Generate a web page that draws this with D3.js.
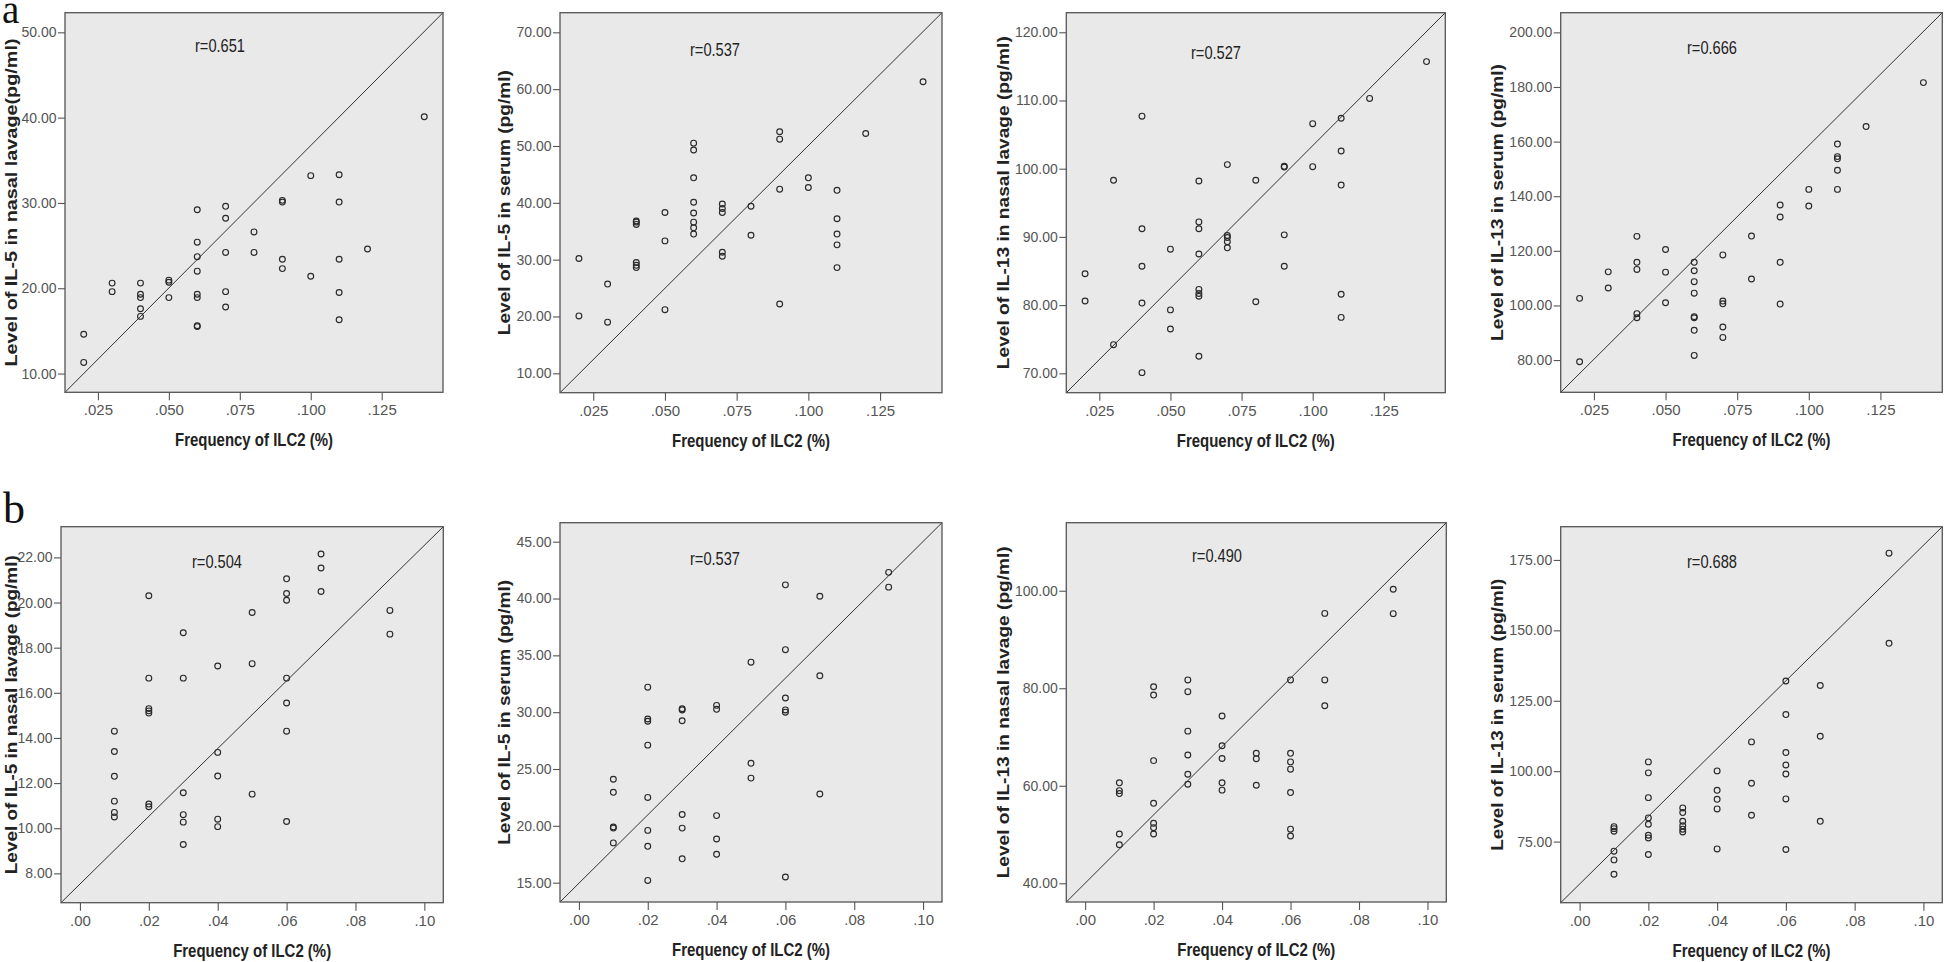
<!DOCTYPE html>
<html><head><meta charset="utf-8">
<script src="https://cdn.jsdelivr.net/npm/d3@7"></script>
<style>body{margin:0;background:#fff;} svg{display:block}</style>
</head><body>
<svg id="c" width="1944" height="962"></svg>
<script>
// ---------- data ----------
const xTicksA = [0.025, 0.05, 0.075, 0.1, 0.125];
const xTicksB = [0, 0.02, 0.04, 0.06, 0.08, 0.1];
const xDomainA = [0.0134, 0.1466];
const xDomainB = [-0.0055, 0.1055];
const xTitle = "Frequency of ILC2 (%)";

// Panel a1: IL-5 nasal lavage
const a1X = [.02,.02,.03,.03,.04,.04,.04,.04,.04,.05,.05,.05,.06,.06,.06,.06,.06,.06,.06,.06,.07,.07,.07,.07,.07,.08,.08,.09,.09,.09,.09,.10,.10,.11,.11,.11,.11,.11,.12,.14];
const a1Y = [14.6,11.3,20.6,19.6,20.6,19.3,18.9,17.6,16.7,20.95,20.7,18.9,29.2,25.4,23.7,22.0,19.3,18.9,15.6,15.5,29.6,28.2,24.2,19.6,17.8,26.6,24.2,30.3,30.1,23.4,22.3,33.2,21.4,33.3,30.1,23.4,19.5,16.3,24.6,40.1];
const a1YTicks = [10, 20, 30, 40, 50];
const a1YDomain = [7.8, 52.3];

// Panel a2: IL-5 serum
const a2X = [.02,.02,.03,.03,.04,.04,.04,.04,.04,.04,.05,.05,.05,.06,.06,.06,.06,.06,.06,.06,.06,.07,.07,.07,.07,.07,.08,.08,.09,.09,.09,.09,.10,.10,.11,.11,.11,.11,.11,.12,.14];
const a2Y = [30.2,20.1,25.7,19.0,36.8,36.6,36.2,29.5,29.0,28.6,38.3,33.3,21.2,50.5,49.3,44.4,40.1,38.2,36.6,35.6,34.5,39.8,39.0,38.3,31.3,30.6,39.4,34.3,52.5,51.2,42.4,22.2,44.4,42.7,42.2,37.2,34.5,32.6,28.6,52.2,61.3];
const a2YTicks = [10, 20, 30, 40, 50, 60, 70];
const a2YDomain = [6.59, 73.45];

// Panel a3: IL-13 nasal lavage
const a3X = [.02,.02,.03,.03,.04,.04,.04,.04,.04,.05,.05,.05,.06,.06,.06,.06,.06,.06,.06,.06,.07,.07,.07,.07,.07,.08,.08,.09,.09,.09,.09,.10,.10,.11,.11,.11,.11,.11,.12,.14];
const a3Y = [84.6,80.6,98.3,74.2,107.7,91.2,85.7,80.3,70.1,88.2,79.3,76.5,98.2,92.2,91.2,87.5,82.3,81.7,81.3,72.5,100.6,90.2,89.9,89.3,88.4,98.3,80.5,100.35,100.25,90.3,85.7,106.6,100.3,107.4,102.6,97.6,81.6,78.2,110.3,115.7];
const a3YTicks = [70, 80, 90, 100, 110, 120];
const a3YDomain = [67.16, 122.87];

// Panel a4: IL-13 serum
const a4X = [.02,.02,.03,.03,.04,.04,.04,.04,.04,.05,.05,.05,.06,.06,.06,.06,.06,.06,.06,.06,.07,.07,.07,.07,.07,.08,.08,.09,.09,.09,.09,.10,.10,.11,.11,.11,.11,.11,.12,.14];
const a4Y = [102.6,79.4,112.3,106.4,125.3,115.8,113.2,97.0,95.5,120.5,112.2,101.0,115.8,112.7,108.7,104.5,95.9,95.5,90.9,81.7,118.5,101.6,100.6,92.1,88.3,125.4,109.7,136.8,132.4,115.8,100.5,142.5,136.4,159.1,154.5,153.7,149.5,142.5,165.5,181.6];
const a4YTicks = [80, 100, 120, 140, 160, 180, 200];
const a4YDomain = [68.2, 207.2];

// Panel b1: IL-5 nasal lavage
const b1X = [.01,.01,.01,.01,.01,.01,.02,.02,.02,.02,.02,.02,.02,.03,.03,.03,.03,.03,.03,.04,.04,.04,.04,.04,.05,.05,.05,.06,.06,.06,.06,.06,.06,.06,.07,.07,.07,.09,.09];
const b1Y = [14.3,13.4,12.3,11.2,10.7,10.5,20.3,16.65,15.3,15.2,15.1,11.07,10.95,18.66,16.65,11.57,10.6,10.27,9.28,17.19,13.36,12.31,10.4,10.07,19.56,17.29,11.51,21.05,20.4,20.1,16.65,15.55,14.3,10.3,22.15,21.53,20.49,19.65,18.6];
const b1YTicks = [8, 10, 12, 14, 16, 18, 20, 22];
const b1YDomain = [6.70, 23.36];

// Panel b2: IL-5 serum
const b2X = [.01,.01,.01,.01,.01,.02,.02,.02,.02,.02,.02,.02,.02,.03,.03,.03,.03,.03,.03,.04,.04,.04,.04,.04,.05,.05,.05,.06,.06,.06,.06,.06,.06,.07,.07,.07,.09,.09];
const b2Y = [24.1,22.95,19.9,19.8,18.5,32.2,29.4,29.2,27.1,22.5,19.6,18.2,15.2,30.3,30.2,29.25,21.0,19.8,17.1,30.6,30.25,20.9,18.84,17.5,34.4,25.5,24.2,41.2,35.5,31.25,30.2,30.0,15.5,40.2,33.2,22.8,42.3,41.0];
const b2YTicks = [15, 20, 25, 30, 35, 40, 45];
const b2YDomain = [13.30, 46.67];

// Panel b3: IL-13 nasal lavage
const b3X = [.01,.01,.01,.01,.01,.02,.02,.02,.02,.02,.02,.02,.03,.03,.03,.03,.03,.03,.04,.04,.04,.04,.04,.05,.05,.05,.06,.06,.06,.06,.06,.06,.06,.07,.07,.07,.09,.09];
const b3Y = [60.6,59.0,58.4,50.1,47.9,80.3,78.6,65.15,56.4,52.3,51.4,50.1,81.7,79.3,71.2,66.3,62.35,60.3,74.3,68.2,65.6,60.6,59.1,66.65,65.55,60.1,81.7,66.65,64.9,63.4,58.6,51.1,49.7,95.35,81.7,76.4,100.3,95.3];
const b3YTicks = [40, 60, 80, 100];
const b3YDomain = [36.16, 113.95];

// Panel b4: IL-13 serum
const b4X = [.01,.01,.01,.01,.01,.01,.02,.02,.02,.02,.02,.02,.02,.02,.03,.03,.03,.03,.03,.03,.04,.04,.04,.04,.04,.05,.05,.05,.06,.06,.06,.06,.06,.06,.06,.07,.07,.07,.09,.09];
const b4Y = [80.3,79.6,78.7,71.6,68.5,63.4,103.3,99.4,90.6,83.4,81.15,77.25,76.3,70.4,86.95,85.3,82.2,80.6,79.4,78.4,100.1,93.2,90.0,86.6,72.4,110.4,95.7,84.35,132.0,120.1,106.6,102.2,99.0,90.15,72.2,130.4,112.4,82.2,177.4,145.4];
const b4YTicks = [75, 100, 125, 150, 175];
const b4YDomain = [53.3, 186.8];

const rLabels = ["r=0.651", "r=0.537", "r=0.527", "r=0.666", "r=0.504", "r=0.537", "r=0.490", "r=0.688"];
const yTitles = [
  "Level of IL-5 in nasal lavage(pg/ml)",
  "Level of IL-5 in serum (pg/ml)",
  "Level of IL-13 in nasal lavage (pg/ml)",
  "Level of IL-13 in serum (pg/ml)",
  "Level of IL-5 in nasal lavage (pg/ml)",
  "Level of IL-5 in serum (pg/ml)",
  "Level of IL-13 in nasal lavage (pg/ml)",
  "Level of IL-13 in serum (pg/ml)"
];
const panelLetters = ["a", "b"];

// ---------- layout (pixels, not data) ----------
const frames = [
  [65, 12.7, 443, 392.3], [560, 12.7, 942, 392.7], [1066.3, 12.7, 1445.3, 392.7], [1560.7, 12.7, 1942.3, 392.3],
  [61, 526.7, 443.3, 902.7], [560, 522.7, 942, 902], [1066.3, 522.7, 1446.3, 902], [1560.7, 526.7, 1942.3, 902.7]
];
const rPos = [[195, 52.3], [690, 55.7], [1191, 59.3], [1687, 54.3], [192, 568.3], [690, 565], [1192, 561.7], [1687, 568.3]];
const yTitleLen = [328, 265, 333, 277, 319, 265, 332, 272];

const fmtA = d => d3.format(".3f")(d).replace(/^0/, "");
const fmtB = d => d3.format(".2f")(d).replace(/^0/, "");
const panels = [
  {xs: a1X, ys: a1Y, yT: a1YTicks, yD: a1YDomain, xT: xTicksA, xD: xDomainA, fmtX: fmtA},
  {xs: a2X, ys: a2Y, yT: a2YTicks, yD: a2YDomain, xT: xTicksA, xD: xDomainA, fmtX: fmtA},
  {xs: a3X, ys: a3Y, yT: a3YTicks, yD: a3YDomain, xT: xTicksA, xD: xDomainA, fmtX: fmtA},
  {xs: a4X, ys: a4Y, yT: a4YTicks, yD: a4YDomain, xT: xTicksA, xD: xDomainA, fmtX: fmtA},
  {xs: b1X, ys: b1Y, yT: b1YTicks, yD: b1YDomain, xT: xTicksB, xD: xDomainB, fmtX: fmtB},
  {xs: b2X, ys: b2Y, yT: b2YTicks, yD: b2YDomain, xT: xTicksB, xD: xDomainB, fmtX: fmtB},
  {xs: b3X, ys: b3Y, yT: b3YTicks, yD: b3YDomain, xT: xTicksB, xD: xDomainB, fmtX: fmtB},
  {xs: b4X, ys: b4Y, yT: b4YTicks, yD: b4YDomain, xT: xTicksB, xD: xDomainB, fmtX: fmtB}
];

const NARROW = "'Liberation Sans Narrow', 'Arial Narrow', 'Liberation Sans', Arial, sans-serif";
const SANS = "'Liberation Sans', Arial, sans-serif";

const svg = d3.select("#c");

panels.forEach((p, i) => {
  const [l, t, r, b] = frames[i];
  const x = d3.scaleLinear().domain(p.xD).range([l, r]);
  const y = d3.scaleLinear().domain(p.yD).range([b, t]);
  const g = svg.append("g");

  g.append("rect").attr("x", l).attr("y", t).attr("width", r - l).attr("height", b - t)
    .attr("fill", "#e9e9e9");

  const yAxis = d3.axisLeft(y).tickValues(p.yT).tickFormat(d3.format(".2f")).tickSize(7).tickPadding(1.5);
  const yg = g.append("g").attr("transform", `translate(${l},0)`).call(yAxis);
  yg.select(".domain").remove();
  yg.selectAll(".tick line").attr("stroke", "#555").attr("stroke-width", 1.1);
  yg.selectAll(".tick text").attr("fill", "#555").style("font-family", NARROW).style("font-size", "14px");

  const xAxis = d3.axisBottom(x).tickValues(p.xT).tickFormat(p.fmtX).tickSize(8).tickPadding(4.5);
  const xg = g.append("g").attr("transform", `translate(0,${b})`).call(xAxis);
  xg.select(".domain").remove();
  xg.selectAll(".tick line").attr("stroke", "#555").attr("stroke-width", 1.1);
  xg.selectAll(".tick text").attr("fill", "#555").style("font-family", NARROW).style("font-size", "15px");

  // reference diagonal
  g.append("line")
    .attr("x1", x(p.xD[0])).attr("y1", y(p.yD[0]))
    .attr("x2", x(p.xD[1])).attr("y2", y(p.yD[1]))
    .attr("stroke", "#333").attr("stroke-width", 1);

  // points
  g.append("g").selectAll("circle").data(d3.zip(p.xs, p.ys)).join("circle")
    .attr("cx", d => x(d[0])).attr("cy", d => y(d[1])).attr("r", 2.9)
    .attr("fill", "none").attr("stroke", "#2a2a2a").attr("stroke-width", 1.15);

  // frame
  g.append("rect").attr("x", l).attr("y", t).attr("width", r - l).attr("height", b - t)
    .attr("fill", "none").attr("stroke", "#555").attr("stroke-width", 1.3);

  // r label
  g.append("text").attr("x", rPos[i][0]).attr("y", rPos[i][1]).text(rLabels[i])
    .attr("fill", "#222").style("font-family", SANS).style("font-size", "18px")
    .attr("textLength", 50).attr("lengthAdjust", "spacingAndGlyphs");

  // x title
  g.append("text").attr("x", (l + r) / 2).attr("y", b + 54).attr("text-anchor", "middle")
    .text(xTitle).attr("fill", "#222").style("font-family", SANS).style("font-size", "18px").style("font-weight", "bold")
    .attr("textLength", 158).attr("lengthAdjust", "spacingAndGlyphs");

  // y title: placed left of the widest tick label, kept inside the page
  let minX = Infinity;
  yg.selectAll(".tick text").each(function () {
    const bb = this.getBBox();
    minX = Math.min(minX, l + bb.x);
  });
  const tx = Math.max(minX - 12, 11), ty = (t + b) / 2;
  g.append("text").attr("transform", `translate(${tx},${ty}) rotate(-90)`)
    .attr("text-anchor", "middle").attr("dy", "0.35em")
    .text(yTitles[i]).attr("fill", "#222").style("font-family", SANS).style("font-size", "16.5px").style("font-weight", "bold")
    .attr("textLength", yTitleLen[i]).attr("lengthAdjust", "spacingAndGlyphs");
});

// panel letters
svg.append("text").attr("x", 2).attr("y", 23).text(panelLetters[0])
  .style("font-family", "'Liberation Serif', 'Times New Roman', serif").style("font-size", "39px").attr("fill", "#111");
svg.append("text").attr("x", 3).attr("y", 523).text(panelLetters[1])
  .style("font-family", "'Liberation Serif', 'Times New Roman', serif").style("font-size", "44px").attr("fill", "#111");
</script>
</body></html>
